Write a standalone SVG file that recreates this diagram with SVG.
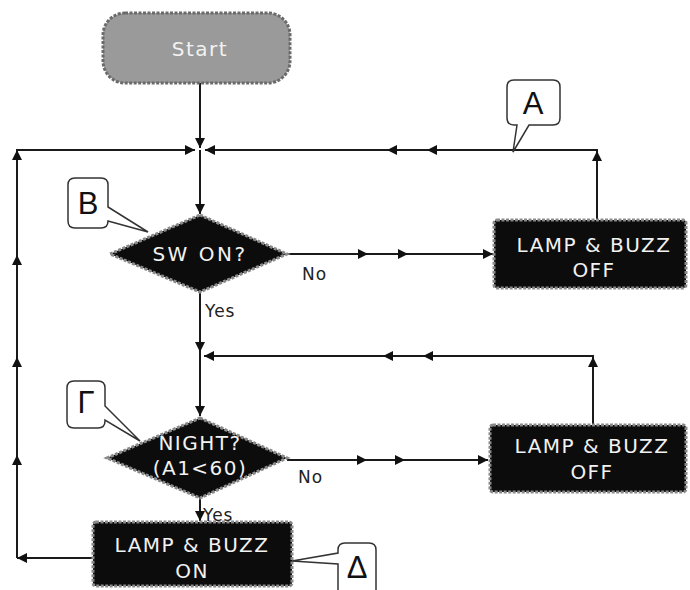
<svg xmlns="http://www.w3.org/2000/svg" width="690" height="590" viewBox="0 0 690 590">
<defs>
<marker id="ah" viewBox="0 0 10 10" refX="10" refY="5" markerWidth="11" markerHeight="10" markerUnits="userSpaceOnUse" orient="auto">
<path d="M0,0 L10,5 L0,10 Z" fill="#111"/>
</marker>
</defs>
<style>
.c{fill:none;stroke:#1a1a1a;stroke-width:2;marker-end:url(#ah)}
.dark{fill:#0c0c0c;stroke:#8a8a8a;stroke-width:3;stroke-dasharray:3 1.5}
.wt{font-family:"DejaVu Sans",Verdana,sans-serif;font-size:20px;fill:#f2f2f2;text-anchor:middle;letter-spacing:1.5px}
.lb{font-family:"DejaVu Sans",Verdana,sans-serif;font-size:17px;fill:#222;letter-spacing:1px}
.co{fill:#fff;stroke:#333;stroke-width:1.5}
.ct{font-family:"Liberation Sans",Arial,sans-serif;font-size:31px;fill:#111;text-anchor:middle}
</style>
<rect width="690" height="590" fill="#fff"/>
<g id="connectors">
<path class="c" d="M200 83 V148"/>
<path class="c" d="M92 558 H17"/>
<path class="c" d="M17 558 V455"/>
<path class="c" d="M17 455 V357"/>
<path class="c" d="M17 357 V255"/>
<path class="c" d="M17 255 V150"/>
<path class="c" d="M16 150 H195"/>
<path class="c" d="M597 220 V151"/>
<path class="c" d="M598 150 H427"/>
<path class="c" d="M427 150 H387"/>
<path class="c" d="M387 150 H205"/>
<path class="c" d="M200 150 V214"/>
<path class="c" d="M287 254 H368"/>
<path class="c" d="M368 254 H408"/>
<path class="c" d="M408 254 H493"/>
<path class="c" d="M200 292 V352"/>
<path class="c" d="M593 425 V357"/>
<path class="c" d="M594 356 H423"/>
<path class="c" d="M423 356 H383"/>
<path class="c" d="M383 356 H204"/>
<path class="c" d="M200 352 V416"/>
<path class="c" d="M287 460 H367"/>
<path class="c" d="M367 460 H405"/>
<path class="c" d="M405 460 H488"/>
<path class="c" d="M200 498 V521"/>
</g>
<g id="start">
<rect x="103" y="13" width="187" height="70" rx="22" fill="#9a9a9a" stroke="#6a6a6a" stroke-width="3" stroke-dasharray="3 1.5"/>
<text class="wt" x="200" y="56">Start</text>
</g>
<g id="sw-on">
<path class="dark" d="M200 215 L287 254 L200 292 L110 254 Z"/>
<text class="wt" x="200" y="261" style="letter-spacing:2.5px">SW ON?</text>
</g>
<g id="lamp-off-1">
<rect class="dark" x="494" y="220" width="192" height="68" rx="3"/>
<text class="wt" x="594" y="252">LAMP &amp; BUZZ</text>
<text class="wt" x="594" y="277">OFF</text>
</g>
<g id="night">
<path class="dark" d="M200 418 L287 458 L200 498 L107 458 Z"/>
<text class="wt" x="200" y="450">NIGHT?</text>
<text class="wt" x="200" y="475">(A1&lt;60)</text>
</g>
<g id="lamp-off-2">
<rect class="dark" x="490" y="425" width="196" height="67" rx="3"/>
<text class="wt" x="592" y="453">LAMP &amp; BUZZ</text>
<text class="wt" x="592" y="479">OFF</text>
</g>
<g id="lamp-on">
<rect class="dark" x="93" y="522" width="199" height="64" rx="3"/>
<text class="wt" x="192" y="552">LAMP &amp; BUZZ</text>
<text class="wt" x="192" y="578">ON</text>
</g>
<g id="labels">
<text class="lb" x="302" y="280">No</text>
<text class="lb" x="205" y="317">Yes</text>
<text class="lb" x="298" y="483">No</text>
<text class="lb" x="203" y="521">Yes</text>
</g>
<g id="callout-a">
<path class="co" d="M515 80 H553 Q560 80 560 87 V118 Q560 125 553 125 H529 L513 152 L517 125 H514 Q507 125 507 118 V87 Q507 80 514 80 Z"/>
<text class="ct" x="533" y="114">A</text>
</g>
<g id="callout-b">
<path class="co" d="M75 178 H101 Q108 178 108 185 V207 L148 232 L108 221 Q108 228 101 228 H75 Q68 228 68 221 V185 Q68 178 75 178 Z"/>
<text class="ct" x="88" y="214">B</text>
</g>
<g id="callout-g">
<path class="co" d="M74 381 H98 Q105 381 105 388 V406 L140 441 L105 420 V421 Q105 428 98 428 H74 Q67 428 67 421 V388 Q67 381 74 381 Z"/>
<text class="ct" x="86" y="413">Γ</text>
</g>
<g id="callout-d">
<path class="co" d="M345 543 H369 Q376 543 376 550 V596 H338 V564 L292 561 L338 553 V550 Q338 543 345 543 Z"/>
<text class="ct" x="357" y="578">Δ</text>
</g>
</svg>
